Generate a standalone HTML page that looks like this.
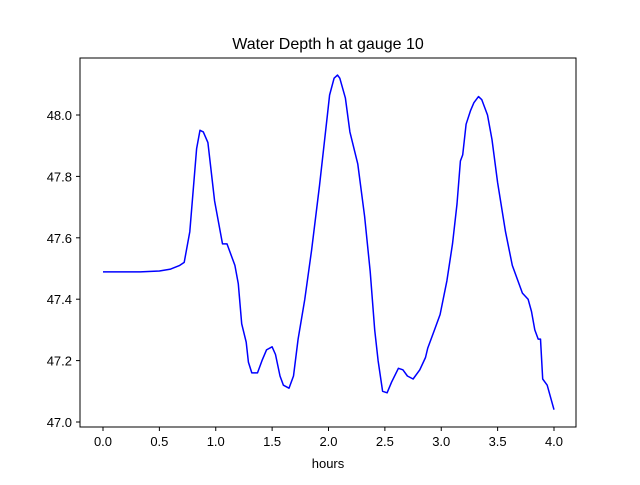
<!DOCTYPE html>
<html><head><meta charset="utf-8"><style>
body{margin:0;background:#fff;}
svg{font-family:"Liberation Sans","DejaVu Sans",sans-serif;}
</style></head><body>
<svg id="chart" width="640" height="480" viewBox="0 0 640 480" xmlns="http://www.w3.org/2000/svg">
<rect x="0" y="0" width="640" height="480" fill="#fff"/>
<text x="328" y="49" text-anchor="middle" font-size="16">Water Depth h at gauge 10</text>
<text x="328" y="468" text-anchor="middle" font-size="13">hours</text>
<g id="xticks"></g>
<g id="yticks"></g>
<path id="series" fill="none" stroke="#0000ff" stroke-width="1.5" stroke-linejoin="round"/>
<rect x="80" y="58" width="496" height="369" fill="none" stroke="#000" stroke-width="1"/>
</svg>
<script>
const hours=[0,0.33,0.5,0.6,0.68,0.72,0.77,0.83,0.86,0.89,0.93,0.99,1.06,1.1,1.17,1.2,1.23,1.27,1.29,1.32,1.37,1.41,1.45,1.5,1.53,1.57,1.6,1.65,1.69,1.73,1.79,1.85,1.92,1.99,2.01,2.05,2.08,2.1,2.15,2.19,2.26,2.32,2.37,2.41,2.44,2.48,2.52,2.56,2.62,2.66,2.7,2.75,2.81,2.86,2.88,2.94,2.99,3.05,3.1,3.14,3.17,3.19,3.22,3.26,3.29,3.33,3.36,3.41,3.45,3.5,3.57,3.63,3.68,3.72,3.77,3.8,3.83,3.86,3.88,3.9,3.94,3.97,4.0];
const depth=[47.489,47.489,47.492,47.498,47.51,47.52,47.62,47.89,47.95,47.945,47.91,47.72,47.58,47.58,47.51,47.45,47.32,47.26,47.195,47.16,47.16,47.20,47.235,47.245,47.22,47.15,47.12,47.11,47.15,47.27,47.40,47.56,47.77,48.0,48.065,48.12,48.13,48.12,48.055,47.945,47.84,47.67,47.49,47.30,47.20,47.10,47.095,47.13,47.175,47.17,47.15,47.14,47.17,47.21,47.24,47.30,47.35,47.46,47.58,47.71,47.85,47.87,47.97,48.015,48.04,48.06,48.05,48.0,47.92,47.78,47.62,47.51,47.46,47.42,47.40,47.36,47.30,47.27,47.27,47.14,47.12,47.08,47.04];
const xTickLabels=["0.0","0.5","1.0","1.5","2.0","2.5","3.0","3.5","4.0"];
const yTickLabels=["47.0","47.2","47.4","47.6","47.8","48.0"];
const xs=h=>103+h*112.75;
const ys=v=>422-(v-47)*307;
const NS="http://www.w3.org/2000/svg";
let d='';
for(let i=0;i<hours.length;i++){d+=(i?'L':'M')+xs(hours[i]).toFixed(1)+' '+ys(depth[i]).toFixed(1);}
document.getElementById('series').setAttribute('d',d);
const xg=document.getElementById('xticks');
xTickLabels.forEach(l=>{
 const x=xs(parseFloat(l));
 const ln=document.createElementNS(NS,'line');
 
 
 ln.setAttribute('x1',x);ln.setAttribute('x2',x);ln.setAttribute('y1',427);ln.setAttribute('y2',431);ln.setAttribute('stroke','#000');
 xg.appendChild(ln);
 const t=document.createElementNS(NS,'text');
 
 
 t.setAttribute('x',x);t.setAttribute('y',446);t.setAttribute('text-anchor','middle');t.setAttribute('font-size','13');
 t.textContent=l;xg.appendChild(t);
});
const yg=document.getElementById('yticks');
yTickLabels.forEach(l=>{
 const y=ys(parseFloat(l));
 const ln=document.createElementNS(NS,'line');
 
 
 ln.setAttribute('x1',76);ln.setAttribute('x2',80);ln.setAttribute('y1',y);ln.setAttribute('y2',y);ln.setAttribute('stroke','#000');
 yg.appendChild(ln);
 const t=document.createElementNS(NS,'text');
 
 
 t.setAttribute('x',72);t.setAttribute('y',y+5);t.setAttribute('text-anchor','end');t.setAttribute('font-size','13');
 t.textContent=l;yg.appendChild(t);
});
</script>
</body></html>
